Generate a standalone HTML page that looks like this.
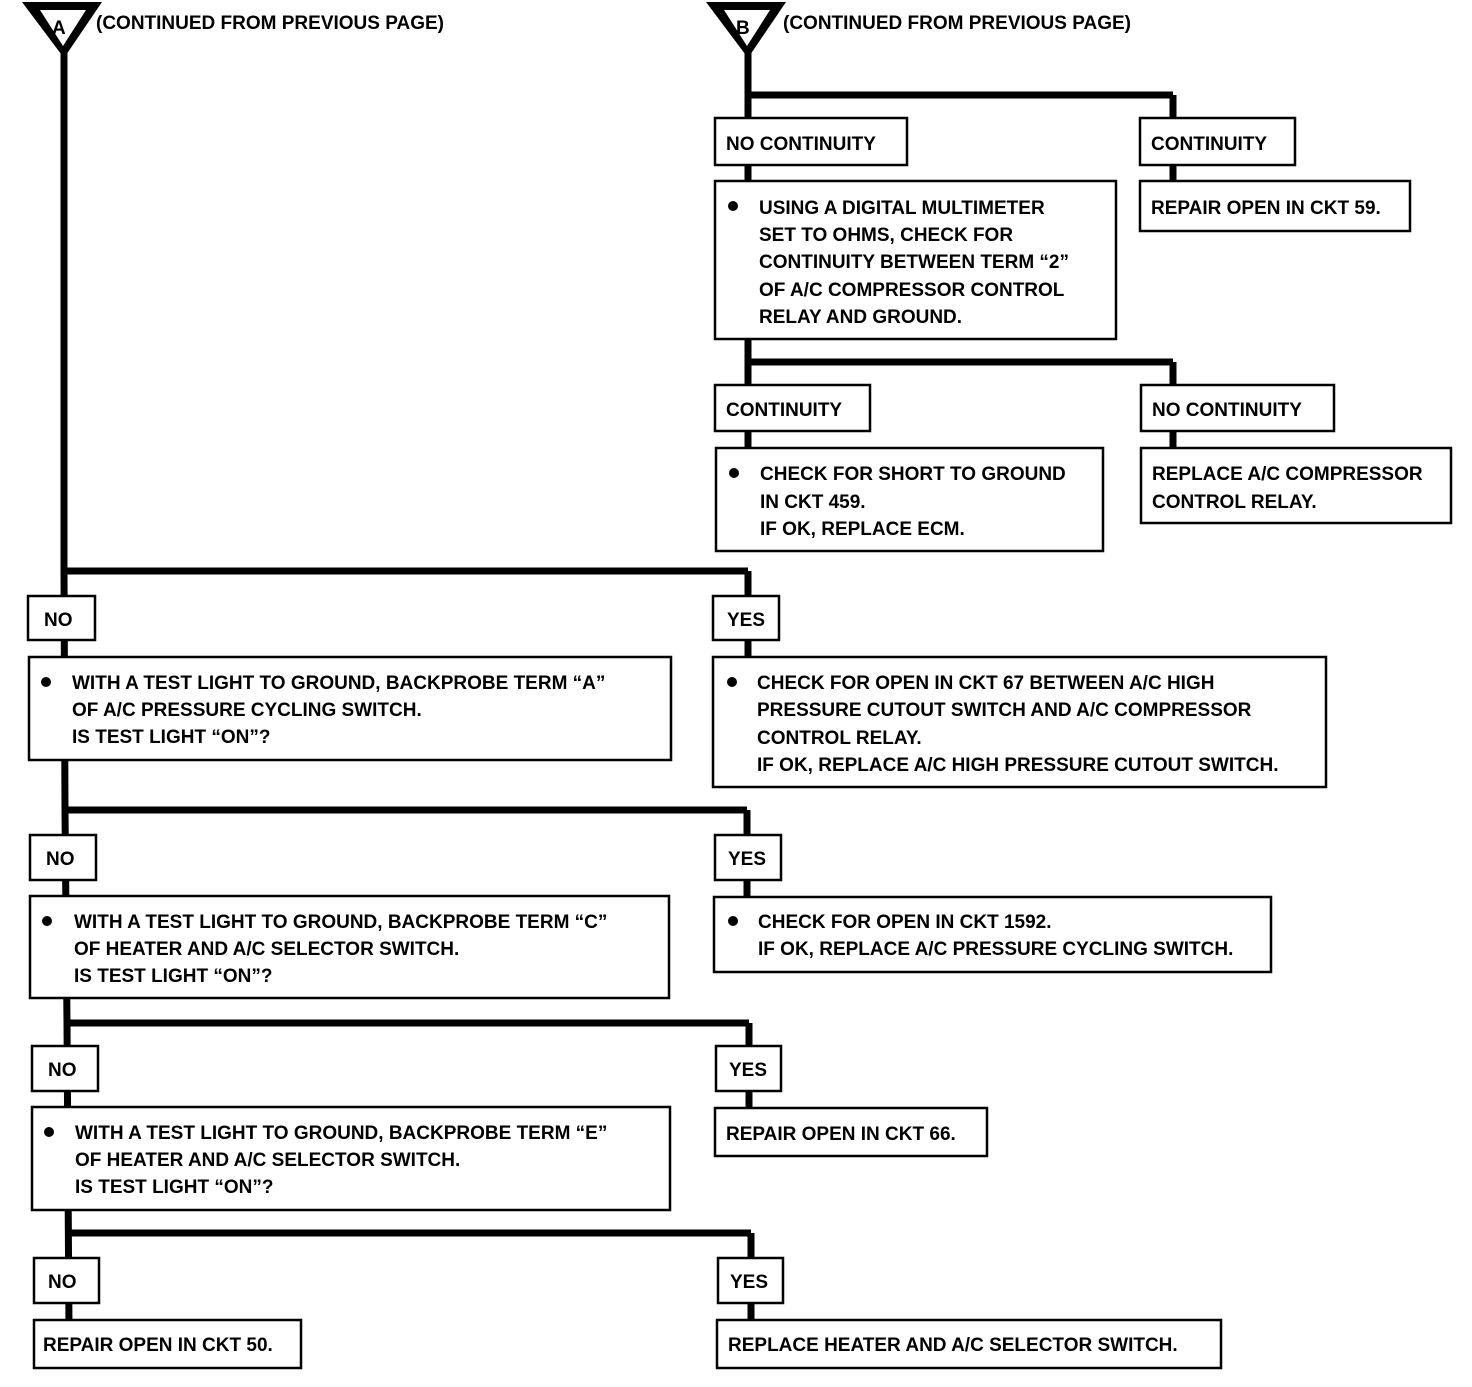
<!DOCTYPE html>
<html><head><meta charset="utf-8"><style>
body{margin:0;background:#fff;}
svg text{font-family:"Liberation Sans",sans-serif;font-weight:bold;font-size:19px;fill:#000;}
</style></head><body>
<svg width="1472" height="1382" viewBox="0 0 1472 1382" xmlns="http://www.w3.org/2000/svg">
<g stroke="#000" stroke-width="7" fill="none">
<line x1="64" y1="50" x2="64" y2="571"/>
<line x1="64" y1="571" x2="65" y2="810"/>
<line x1="65" y1="810" x2="67" y2="1023"/>
<line x1="67" y1="1023" x2="69" y2="1330"/>
<line x1="61" y1="571" x2="748" y2="571"/><line x1="748" y1="571" x2="748" y2="660"/>
<line x1="62" y1="810" x2="747" y2="810"/><line x1="747" y1="810" x2="747" y2="900"/>
<line x1="64" y1="1023" x2="749" y2="1023"/><line x1="749" y1="1023" x2="749" y2="1110"/>
<line x1="66" y1="1233" x2="751" y2="1233"/><line x1="751" y1="1233" x2="751" y2="1322"/>
<line x1="748" y1="50" x2="748" y2="450"/>
<line x1="745" y1="95" x2="1173" y2="95"/><line x1="1173" y1="95" x2="1173" y2="185"/>
<line x1="745" y1="362" x2="1173" y2="362"/><line x1="1173" y1="362" x2="1173" y2="450"/>
</g>
<polygon points="22,2 102,2 64,58" fill="#000"/>
<polygon points="40,10 86,10 63,46" fill="#fff"/>
<text x="52" y="34">A</text>
<polygon points="706,2 786,2 748,58" fill="#000"/>
<polygon points="724,10 770,10 747,46" fill="#fff"/>
<text x="736" y="34">B</text>
<text x="96" y="29">(CONTINUED FROM PREVIOUS PAGE)</text>
<text x="783" y="29">(CONTINUED FROM PREVIOUS PAGE)</text>
<g fill="#fff" stroke="#000" stroke-width="2.5">
<rect x="715" y="118" width="192" height="47"/>
<rect x="1140" y="118" width="155" height="47"/>
<rect x="715" y="181" width="401" height="158"/>
<rect x="1140" y="181" width="270" height="50"/>
<rect x="715" y="385" width="155" height="46"/>
<rect x="1141" y="385" width="193" height="46"/>
<rect x="716" y="448" width="387" height="103"/>
<rect x="1141" y="448" width="310" height="75"/>
<rect x="28" y="596" width="67" height="44"/>
<rect x="713" y="596" width="66" height="44"/>
<rect x="29" y="657" width="642" height="103"/>
<rect x="713" y="657" width="613" height="130"/>
<rect x="30" y="835" width="66" height="45"/>
<rect x="715" y="835" width="66" height="45"/>
<rect x="30" y="896" width="639" height="102"/>
<rect x="714" y="897" width="557" height="75"/>
<rect x="32" y="1046" width="66" height="45"/>
<rect x="716" y="1046" width="65" height="45"/>
<rect x="32" y="1107" width="638" height="103"/>
<rect x="715" y="1108" width="272" height="48"/>
<rect x="34" y="1258" width="65" height="45"/>
<rect x="718" y="1258" width="65" height="45"/>
<rect x="34" y="1320" width="267" height="48"/>
<rect x="717" y="1320" width="504" height="48"/>
</g>
<g fill="#000">
<circle cx="733" cy="206" r="5"/><circle cx="734" cy="473" r="5"/>
<circle cx="46" cy="682" r="5"/><circle cx="732" cy="682" r="5"/>
<circle cx="47" cy="921" r="5"/><circle cx="733" cy="921" r="5"/>
<circle cx="49" cy="1132" r="5"/>
</g>
<text x="726" y="150">NO CONTINUITY</text>
<text x="1151" y="150">CONTINUITY</text>
<text x="759" y="214">USING A DIGITAL MULTIMETER</text>
<text x="759" y="241">SET TO OHMS, CHECK FOR</text>
<text x="759" y="268">CONTINUITY BETWEEN TERM “2”</text>
<text x="759" y="296">OF A/C COMPRESSOR CONTROL</text>
<text x="759" y="323">RELAY AND GROUND.</text>
<text x="1151" y="214">REPAIR OPEN IN CKT 59.</text>
<text x="726" y="416">CONTINUITY</text>
<text x="1152" y="416">NO CONTINUITY</text>
<text x="760" y="480">CHECK FOR SHORT TO GROUND</text>
<text x="760" y="508">IN CKT 459.</text>
<text x="760" y="535">IF OK, REPLACE ECM.</text>
<text x="1152" y="480">REPLACE A/C COMPRESSOR</text>
<text x="1152" y="508">CONTROL RELAY.</text>
<text x="44" y="626">NO</text>
<text x="727" y="626">YES</text>
<text x="72" y="689">WITH A TEST LIGHT TO GROUND, BACKPROBE TERM “A”</text>
<text x="72" y="716">OF A/C PRESSURE CYCLING SWITCH.</text>
<text x="72" y="743">IS TEST LIGHT “ON”?</text>
<text x="757" y="689">CHECK FOR OPEN IN CKT 67 BETWEEN A/C HIGH</text>
<text x="757" y="716">PRESSURE CUTOUT SWITCH AND A/C COMPRESSOR</text>
<text x="757" y="744">CONTROL RELAY.</text>
<text x="757" y="771">IF OK, REPLACE A/C HIGH PRESSURE CUTOUT SWITCH.</text>
<text x="46" y="865">NO</text>
<text x="728" y="865">YES</text>
<text x="74" y="928">WITH A TEST LIGHT TO GROUND, BACKPROBE TERM “C”</text>
<text x="74" y="955">OF HEATER AND A/C SELECTOR SWITCH.</text>
<text x="74" y="982">IS TEST LIGHT “ON”?</text>
<text x="758" y="928">CHECK FOR OPEN IN CKT 1592.</text>
<text x="758" y="955">IF OK, REPLACE A/C PRESSURE CYCLING SWITCH.</text>
<text x="48" y="1076">NO</text>
<text x="729" y="1076">YES</text>
<text x="75" y="1139">WITH A TEST LIGHT TO GROUND, BACKPROBE TERM “E”</text>
<text x="75" y="1166">OF HEATER AND A/C SELECTOR SWITCH.</text>
<text x="75" y="1193">IS TEST LIGHT “ON”?</text>
<text x="726" y="1140">REPAIR OPEN IN CKT 66.</text>
<text x="48" y="1288">NO</text>
<text x="730" y="1288">YES</text>
<text x="43" y="1351">REPAIR OPEN IN CKT 50.</text>
<text x="728" y="1351">REPLACE HEATER AND A/C SELECTOR SWITCH.</text>
</svg>
</body></html>
